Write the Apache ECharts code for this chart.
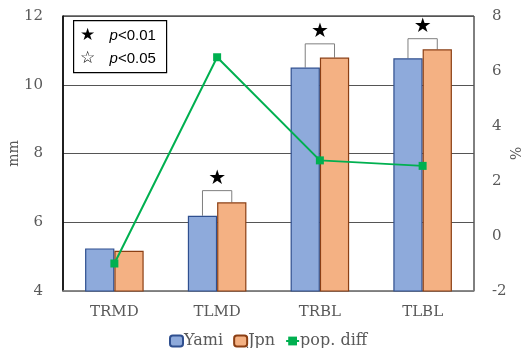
<!DOCTYPE html>
<html>
<head>
<meta charset="utf-8">
<script src="https://cdn.jsdelivr.net/npm/echarts@6/dist/echarts.min.js"></script>
<style>
  html, body { margin: 0; padding: 0; background: #fff; }
  #chart { width: 528px; height: 348px; }
</style>
</head>
<body>
<div id="chart"></div>
<script>
// data
const categories = ["TRMD", "TLMD", "TRBL", "TLBL"];
const yami = [5.24, 6.19, 10.5, 10.77];
const jpn = [5.17, 6.58, 10.79, 11.03];
const popDiff = [-1.0, 6.5, 2.75, 2.55];
// significance brackets: [category index, bracket top (mm)]
const sigMarks = [[1, 6.92], [2, 11.19], [3, 11.34]];

const serif = "DejaVu Serif";
const labelColor = "#595959";
const catGap = 0.43;

const chart = echarts.init(document.getElementById("chart"));

chart.setOption({
    animation: false,
    textStyle: { fontFamily: serif },
    grid: {
        left: 63,
        right: 54,
        top: 16,
        bottom: 57,
        outerBoundsMode: "none",
        containLabel: false,
        show: true,
        borderColor: "#000",
        borderWidth: 1
    },
    legend: {
        top: 328,
        left: 164,
        itemWidth: 13,
        itemHeight: 11,
        itemGap: 10,
        textStyle: { fontFamily: serif, fontSize: 16, color: labelColor, padding: [0, 0, 0, -4] },
        data: ["Yami", "Jpn", "pop. diff"]
    },
    xAxis: {
        type: "category",
        data: categories,
        axisTick: { show: false },
        axisLine: { onZero: false, lineStyle: { color: "#8c8c8c", width: 1.5 } },
        axisLabel: { fontFamily: serif, fontSize: 15, color: labelColor, margin: 14 }
    },
    yAxis: [
        {
            type: "value",
            min: 4,
            max: 12,
            interval: 2,
            name: "mm",
            nameLocation: "middle",
            nameGap: 42,
            nameMoveOverlap: false,
            nameTextStyle: { fontFamily: serif, fontSize: 14, color: labelColor },
            axisLine: { show: true, lineStyle: { color: "#000", width: 1.5 } },
            axisTick: { show: false },
            axisLabel: { fontFamily: serif, fontSize: 15, color: labelColor, margin: 20 },
            splitLine: { lineStyle: { color: "#555", width: 1.2 } }
        },
        {
            type: "value",
            min: -2,
            max: 8,
            interval: 2,
            name: "%",
            nameLocation: "middle",
            nameGap: 33,
            nameRotate: -90,
            nameMoveOverlap: false,
            nameTextStyle: { fontFamily: serif, fontSize: 14, color: labelColor },
            axisLine: { show: false },
            axisTick: { show: false },
            axisLabel: { fontFamily: serif, fontSize: 15, color: labelColor, margin: 18 },
            splitLine: { show: false }
        }
    ],
    series: [
        {
            name: "Yami",
            type: "bar",
            data: yami,
            barGap: "0%",
            barCategoryGap: catGap * 100 + "%",
            itemStyle: { color: "#8eaadb", borderColor: "#2f4f8f", borderWidth: 1.2 }
        },
        {
            name: "Jpn",
            type: "bar",
            data: jpn,
            itemStyle: { color: "#f4b183", borderColor: "#8b3f14", borderWidth: 1.2 }
        },
        {
            name: "bracket",
            type: "custom",
            yAxisIndex: 0,
            silent: true,
            data: sigMarks,
            renderItem: function (params, api) {
                const i = api.value(0);
                const top = api.value(1);
                const band = api.size([1, 0])[0];
                const w = band * (1 - catGap) / 2;
                const c = api.coord([i, top]);
                const xl = c[0] - w / 2;
                const xr = c[0] + w / 2;
                const yl = api.coord([i, yami[i]])[1];
                const yr = api.coord([i, jpn[i]])[1];
                return {
                    type: "group",
                    children: [
                        {
                            type: "polyline",
                            shape: { points: [[xl, yl], [xl, c[1]], [xr, c[1]], [xr, yr]] },
                            style: { stroke: "#7f7f7f", lineWidth: 1, fill: null }
                        },
                        {
                            type: "text",
                            style: {
                                text: "★",
                                x: c[0],
                                y: c[1] - 2,
                                align: "center",
                                verticalAlign: "bottom",
                                fontSize: 20,
                                fontFamily: "DejaVu Sans",
                                fill: "#000"
                            }
                        }
                    ]
                };
            }
        },
        {
            name: "pop. diff",
            type: "line",
            yAxisIndex: 1,
            data: popDiff,
            symbol: "rect",
            symbolSize: 8,
            lineStyle: { color: "#00b050", width: 2 },
            itemStyle: { color: "#00b050" },
            z: 5
        }
    ],
    graphic: [
        {
            type: "group",
            left: 73,
            top: 20,
            children: [
                {
                    type: "rect",
                    shape: { x: 0, y: 0, width: 93, height: 52 },
                    style: { fill: "#fff", stroke: "#000", lineWidth: 1.2 }
                },
                {
                    type: "text",
                    style: { text: "★", x: 14, y: 15, align: "center", verticalAlign: "middle", fontSize: 17, fontFamily: "DejaVu Sans", fill: "#000" }
                },
                {
                    type: "text",
                    style: { text: "☆", x: 14, y: 38, align: "center", verticalAlign: "middle", fontSize: 17, fontFamily: "DejaVu Sans", fill: "#000" }
                },
                {
                    type: "text",
                    style: {
                        text: "{i|p}<0.01", x: 36, y: 15, verticalAlign: "middle",
                        fontSize: 15, fontFamily: "Liberation Sans", fill: "#000",
                        rich: { i: { fontStyle: "italic", fontSize: 15, fontFamily: "Liberation Sans" } }
                    }
                },
                {
                    type: "text",
                    style: {
                        text: "{i|p}<0.05", x: 36, y: 38, verticalAlign: "middle",
                        fontSize: 15, fontFamily: "Liberation Sans", fill: "#000",
                        rich: { i: { fontStyle: "italic", fontSize: 15, fontFamily: "Liberation Sans" } }
                    }
                }
            ]
        }
    ]
});
</script>
</body>
</html>
